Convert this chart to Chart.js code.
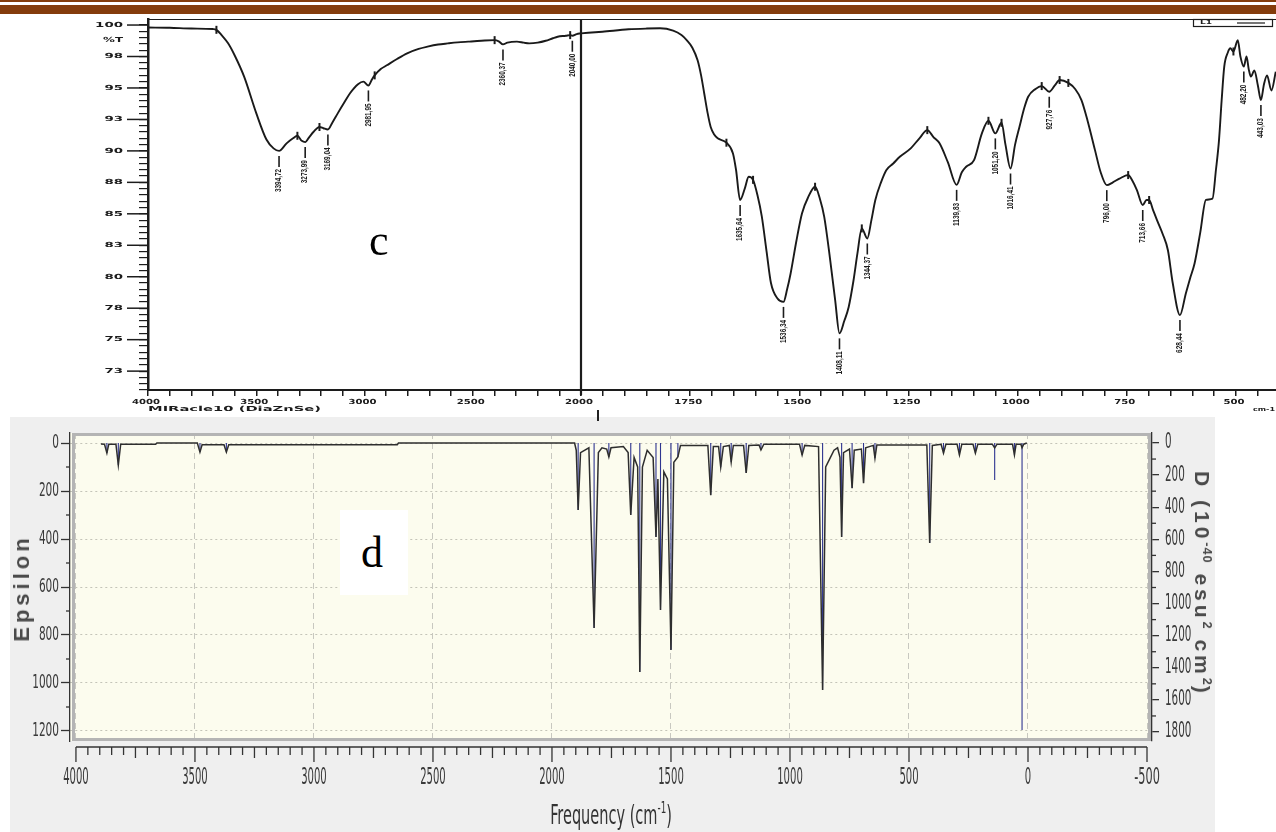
<!DOCTYPE html>
<html>
<head>
<meta charset="utf-8">
<title>Spectres IR c / d</title>
<script src="https://cdn.jsdelivr.net/npm/chart.js@4.4.1/dist/chart.umd.min.js"></script>
<style>
  html, body { margin: 0; padding: 0; background: #fff; }
  body { position: relative; width: 1276px; height: 832px; overflow: hidden; font-family: 'Liberation Sans', Arial, sans-serif; }
  .abs { position: absolute; }
  #brownThin { left: 0; top: 0; width: 1276px; height: 2px; background: #843c0c; }
  #brownThick { left: 0; top: 5px; width: 1276px; height: 9px; background: #843c0c; }
  #topBox { left: 0; top: 0; width: 1276px; height: 417px; }
  #panel { left: 10px; top: 417px; width: 1205px; height: 415px; background: #efefef; }
  #botBox { left: 0; top: 417px; width: 1276px; height: 415px; }
  #cLbl { left: 369px; top: 219px; font: 44px 'Liberation Serif', 'Times New Roman', serif; line-height: 1; color: #000; }
  #dBox { left: 340px; top: 510px; width: 68px; height: 85px; background: #fff; }
  #dLbl { left: 361px; top: 531px; font: 44px 'Liberation Serif', 'Times New Roman', serif; line-height: 1; color: #000; }
  #midTick { left: 597px; top: 410px; width: 2px; height: 11px; background: #222; }
  .rot { white-space: nowrap; line-height: 1; color: #4a4a4a; }
  #epsTitle { left: 22px; top: 588px; transform: translate(-50%, -50%) rotate(-90deg); font: bold 22px 'Liberation Sans', Arial, sans-serif; letter-spacing: 4px; }
  #dTitle { left: 1202px; top: 584px; transform: translate(-50%, -50%) rotate(90deg); font: bold 21px 'Liberation Sans', Arial, sans-serif; letter-spacing: 4px; }
  #dTitle sup { font-size: 0.6em; letter-spacing: 1px; }
  #freqTitle { left: 611px; top: 814px; transform: translate(-50%, -50%) scale(0.95, 1.6); font: 17px 'Liberation Sans Narrow', 'DejaVu Sans Condensed', 'Liberation Sans', sans-serif; color: #333; }
  #freqTitle sup { font-size: 0.6em; }
</style>
</head>
<body>
<div id="brownThin" class="abs"></div>
<div id="brownThick" class="abs"></div>
<div id="topBox" class="abs"><canvas id="topCanvas"></canvas></div>
<div id="panel" class="abs"></div>
<div id="botBox" class="abs"><canvas id="botCanvas"></canvas></div>
<div id="midTick" class="abs"></div>
<div id="cLbl" class="abs">c</div>
<div id="dBox" class="abs"></div>
<div id="dLbl" class="abs">d</div>
<div id="epsTitle" class="abs rot">Epsilon</div>
<div id="dTitle" class="abs rot">D (10<sup>-40</sup> esu<sup>2</sup> cm<sup>2</sup>)</div>
<div id="freqTitle" class="abs rot">Frequency (cm<sup>-1</sup>)</div>

<script>
// ---- spectre c : IR expérimental (%T) ----
const topLeftFreq = [4000, 3900, 3800, 3700, 3684, 3660, 3630, 3600, 3556, 3500, 3453, 3420, 3394.72, 3360, 3330, 3310, 3290, 3273.99, 3255, 3236, 3208, 3190, 3169.04, 3150, 3123, 3095, 3066, 3030, 3005, 2981.95, 2965, 2953, 2925, 2897, 2850, 2803, 2750, 2709, 2660, 2615, 2570, 2521, 2460, 2399, 2380, 2360.37, 2340, 2296, 2265, 2239, 2200, 2163, 2130, 2108, 2070, 2050, 2040, 2020, 2000];
const topLeftT = [99.8, 99.78, 99.72, 99.68, 99.62, 99.2, 98.55, 97.6, 95.9, 93.0, 90.9, 90.2, 90.0, 90.6, 91.0, 91.2, 90.8, 90.7, 91.1, 91.5, 91.9, 91.8, 91.7, 92.2, 93.0, 93.8, 94.6, 95.3, 95.5, 95.2, 95.7, 96.0, 96.5, 96.8, 97.3, 97.75, 98.1, 98.28, 98.45, 98.54, 98.62, 98.68, 98.75, 98.8, 98.7, 98.46, 98.6, 98.68, 98.6, 98.54, 98.6, 98.75, 98.95, 99.07, 99.15, 99.2, 99.15, 99.28, 99.34];

const topRightFreq = [2000, 1951, 1891, 1850, 1819, 1789, 1770, 1758, 1745, 1733, 1725, 1718, 1710, 1703, 1695, 1687, 1667, 1652, 1645, 1635.64, 1625, 1616, 1606, 1596, 1586, 1575, 1565, 1550, 1536.34, 1528, 1520, 1507, 1494, 1480, 1464, 1453, 1443, 1430, 1418, 1408.11, 1397, 1387, 1376, 1367, 1357, 1344.37, 1335, 1326, 1313, 1301, 1285, 1270, 1245, 1225, 1207, 1193, 1179, 1160, 1139.83, 1128, 1118, 1100, 1082, 1067, 1051.2, 1037, 1028, 1016.41, 1006, 996, 985, 976, 960, 945, 927.76, 915, 904, 884, 868, 854, 840, 823, 810, 796, 782, 767, 747, 737, 727, 713.66, 705, 699, 690, 681, 668, 656, 645, 628.44, 615, 605, 595, 582, 569, 554, 546, 539, 533, 527, 519, 513, 506, 496, 490, 482.2, 476, 471, 466, 458, 450, 443.03, 436, 429, 419, 409];
const topRightT = [99.34, 99.47, 99.66, 99.72, 99.74, 99.55, 99.2, 98.8, 98.2, 97.2, 96.0, 94.6, 93.0, 91.9, 91.3, 91.0, 90.65, 89.8, 88.5, 86.1, 87.0, 87.94, 87.7, 86.5, 84.8, 82.0, 79.5, 78.27, 78.0, 79.0, 80.26, 82.8, 85.03, 86.3, 87.15, 86.2, 84.76, 81.5, 78.14, 75.5, 76.5, 77.6, 79.7, 81.85, 83.84, 83.04, 84.5, 86.1, 87.5, 88.47, 89.0, 89.53, 90.2, 91.0, 91.65, 91.1, 90.6, 89.1, 87.3, 88.3, 88.74, 89.27, 91.39, 92.39, 91.39, 92.23, 90.5, 88.6, 90.5, 91.9, 93.4, 94.3, 94.9, 95.15, 94.7, 95.2, 95.63, 95.4, 94.9, 94.04, 92.4, 90.06, 88.3, 87.28, 87.5, 87.8, 88.08, 87.6, 86.88, 85.7, 86.1, 86.1, 85.3, 84.5, 83.4, 82.1, 79.5, 76.95, 78.67, 79.9, 81.05, 83.5, 86.1, 86.2, 88.5, 90.86, 94.0, 96.7, 97.8, 98.15, 97.9, 98.8, 97.5, 96.7, 97.5, 96.5, 95.9, 96.4, 95.2, 94.04, 95.3, 96.0, 94.8, 96.3];

// pics annotés
const peakFreq = [3394.72, 3273.99, 3169.04, 2981.95, 2360.37, 2040.00, 1635.64, 1536.34, 1408.11, 1344.37, 1139.83, 1051.20, 1016.41, 927.76, 796.00, 713.66, 628.44, 482.20, 443.03];
const peakT = [90.0, 90.7, 91.7, 95.2, 98.46, 99.15, 86.1, 78.0, 75.5, 83.04, 87.3, 91.39, 88.6, 94.7, 87.28, 85.7, 76.95, 96.7, 94.04];
const peakLabels = ['3394,72', '3273,99', '3169,04', '2981,95', '2360,37', '2040,00', '1635,64', '1536,34', '1408,11', '1344,37', '1139,83', '1051,20', '1016,41', '927,76', '796,00', '713,66', '628,44', '482,20', '443,03'];
// petits repères sur les épaulements
const markFreq = [3684, 3310, 3208, 2953, 2399, 2050, 1667, 1606, 1464, 1357, 1207, 1067, 1037, 945, 904, 884, 747, 699, 506];
const markT = [99.62, 91.2, 91.9, 96.0, 98.8, 99.2, 90.65, 87.7, 87.15, 83.84, 91.65, 92.39, 92.23, 95.15, 95.63, 95.4, 88.08, 86.1, 97.9];

const topYTickValues = [100, 97.5, 95, 92.5, 90, 87.5, 85, 82.5, 80, 77.5, 75, 72.5];
const topYTickLabels = ['100', '98', '95', '93', '90', '88', '85', '83', '80', '78', '75', '73'];
const topX1Labels = [4000, 3500, 3000, 2500, 2000];
const topX2Labels = [1750, 1500, 1250, 1000, 750, 500];

// ---- spectre d : calculé (Epsilon / D) ----
const curveFreq = [3895, 3880, 3870, 3862, 3832, 3822, 3812, 3665, 3660, 3490, 3479, 3470, 3378, 3368, 3358, 2650, 2645, 1905, 1898, 1890, 1880, 1845, 1823, 1805, 1790, 1770, 1761, 1752, 1700, 1680, 1669, 1655, 1640, 1631, 1620, 1600, 1575, 1563, 1555, 1544, 1530, 1515, 1500, 1488, 1471, 1460, 1345, 1333, 1322, 1300, 1291, 1280, 1255, 1247, 1238, 1195, 1184, 1173, 1130, 1122, 1110, 960, 949, 938, 880, 863, 850, 830, 815, 800, 790, 783, 775, 750, 739, 730, 700, 691, 682, 650, 643, 635, 425, 413, 402, 365, 355, 345, 298, 288, 278, 231, 221, 211, 150, 140, 130, 65, 57, 50, 30, 25, 18, 5];
const curveEps = [4, 5, 42, 5, 5, 92, 5, 5, 0, 0, 38, 7, 7, 38, 7, 7, 0, 0, 30, 279, 40, 20, 771, 40, 20, 25, 58, 20, 15, 40, 300, 60, 100, 954, 100, 30, 60, 392, 150, 696, 120, 150, 862, 80, 58, 10, 10, 217, 15, 15, 100, 15, 10, 79, 10, 10, 125, 10, 8, 29, 5, 5, 50, 10, 15, 1029, 100, 60, 30, 20, 60, 392, 40, 25, 188, 30, 25, 167, 20, 10, 63, 8, 8, 417, 10, 5, 42, 5, 5, 50, 5, 5, 42, 5, 5, 20, 5, 5, 50, 5, 5, 20, 5, 0];

const stickFreq = [3870, 3822, 3479, 3368, 1890, 1823, 1761, 1669, 1631, 1563, 1544, 1500, 1471, 1333, 1291, 1247, 1184, 1122, 949, 863, 783, 739, 691, 643, 413, 355, 288, 221, 140, 57, 25];
const stickD = [62, 137, 56, 56, 417, 1152, 87, 448, 1426, 585, 1040, 1289, 87, 324, 149, 118, 187, 44, 75, 1538, 585, 280, 249, 93, 623, 62, 75, 62, 230, 75, 1787];

const botXLabels = [4000, 3500, 3000, 2500, 2000, 1500, 1000, 500, 0, -500];
const botYLabels = [0, 200, 400, 600, 800, 1000, 1200];
const botY2Labels = [0, 200, 400, 600, 800, 1000, 1200, 1400, 1600, 1800];

// ---- utilitaires ----
function seg(ctx, xa, ya, xb, yb) {
    ctx.beginPath();
    ctx.moveTo(xa, ya);
    ctx.lineTo(xb, yb);
    ctx.stroke();
}

// texte étiré pour coller à la largeur / hauteur voulues
function drawFit(ctx, text, x, y, font, width, height, align) {
    ctx.save();
    ctx.font = font;
    const size = parseFloat(font.match(/([\d.]+)px/)[1]);
    const w = ctx.measureText(text).width || 1;
    ctx.translate(x, y);
    ctx.scale(width / w, height / (size * 0.72));
    ctx.textAlign = align;
    ctx.textBaseline = 'middle';
    ctx.fillText(text, 0, 0);
    ctx.restore();
}

function stepTicks(lo, hi, step) {
    const out = [];
    for (let v = lo; v <= hi + 1e-9; v += step) out.push({ value: v });
    return out;
}

const smallFont = 'bold 7px "DejaVu Sans", "Liberation Sans", sans-serif';
const peakFont = 'bold 8px "Liberation Sans", Arial, sans-serif';
const narrowFont = '16px "Liberation Sans Narrow", "DejaVu Sans Condensed", "Liberation Sans", sans-serif';

// ---- décor du spectre c ----
const topDecor = {
    id: 'topDecor',
    afterDraw(chart) {
        const { ctx, chartArea: a } = chart;
        const x1 = chart.scales.x1, x2 = chart.scales.x2, y = chart.scales.y;
        const ink = '#1c1c1c';
        ctx.save();
        ctx.strokeStyle = ink;
        ctx.fillStyle = ink;

        ctx.lineWidth = 1.2;
        seg(ctx, a.left, a.top + 0.5, a.right, a.top + 0.5);

        // coupure à 2000 cm-1
        const xs = x1.getPixelForValue(2000);
        ctx.lineWidth = 2.2;
        seg(ctx, xs, a.top, xs, a.bottom + 5);

        // graduations principales et valeurs %T
        ctx.lineWidth = 1.5;
        topYTickValues.forEach((v, i) => {
            const py = y.getPixelForValue(v);
            seg(ctx, a.left - 21, py, a.left, py);
            drawFit(ctx, topYTickLabels[i], a.left - 25, py, smallFont, topYTickLabels[i].length * 9.3, 5, 'right');
        });
        drawFit(ctx, '%T', a.left - 25, y.getPixelForValue(98.8), smallFont, 20, 5, 'right');

        topX1Labels.forEach(v => {
            drawFit(ctx, String(v), x1.getPixelForValue(v) - 2, a.bottom + 12, smallFont, 28, 5, 'center');
        });
        topX2Labels.forEach(v => {
            drawFit(ctx, String(v), x2.getPixelForValue(v) - 2, a.bottom + 12, smallFont, v >= 1000 ? 28 : 21, 5, 'center');
        });
        drawFit(ctx, 'MIRacle10 (DiaZnSe)', a.left, a.bottom + 19.5, smallFont, 173, 5, 'left');
        drawFit(ctx, 'cm-1', a.right - 1, a.bottom + 19.5, smallFont, 22, 4, 'right');

        // petite légende L1
        ctx.lineWidth = 1.2;
        ctx.strokeRect(1193.5, a.top + 0.5, 79, 7);
        drawFit(ctx, 'L1', 1200, a.top + 4, smallFont, 12, 4, 'left');
        seg(ctx, 1237, a.top + 4, 1265, a.top + 4);

        // repères d'épaulements
        ctx.lineWidth = 2;
        markFreq.forEach((f, i) => {
            const sx = f >= 2000 ? x1 : x2;
            const px = sx.getPixelForValue(f), py = y.getPixelForValue(markT[i]);
            seg(ctx, px, py - 4, px, py + 4);
        });

        // pics : trait + valeur verticale
        peakFreq.forEach((f, i) => {
            const sx = f >= 2000 ? x1 : x2;
            const px = sx.getPixelForValue(f), py = y.getPixelForValue(peakT[i]);
            ctx.lineWidth = 1.6;
            seg(ctx, px, py + 5, px, py + 16);
            ctx.save();
            ctx.translate(px, py + 18);
            ctx.rotate(-Math.PI / 2);
            drawFit(ctx, peakLabels[i], 0, 0, peakFont, peakLabels[i].length * 3.3, 6, 'right');
            ctx.restore();
        });
        ctx.restore();
    }
};

// ---- décor du spectre d ----
const botDecor = {
    id: 'botDecor',
    beforeDraw(chart) {
        const { ctx, chartArea: a } = chart;
        ctx.save();
        ctx.fillStyle = '#fcfcee';
        ctx.fillRect(a.left, a.top, a.right - a.left, a.bottom - a.top);
        ctx.restore();
    },
    afterDatasetsDraw(chart) {
        const { ctx, chartArea: a } = chart;
        ctx.save();
        ctx.strokeStyle = '#b4b4b4';
        ctx.lineWidth = 3;
        ctx.strokeRect(a.left + 3.5, a.top + 1.5, a.right - a.left - 6, a.bottom - a.top - 3);
        ctx.restore();
    },
    afterDraw(chart) {
        const { ctx, chartArea: a } = chart;
        const x = chart.scales.x, y = chart.scales.y, y2 = chart.scales.y2;
        ctx.save();
        ctx.strokeStyle = '#333';
        ctx.fillStyle = '#3a3a3a';
        ctx.lineWidth = 1.3;

        // rangée de graduations sous le cadre
        const rowY = a.bottom + 6;
        seg(ctx, x.getPixelForValue(4000), rowY, x.getPixelForValue(-500), rowY);
        for (let v = -500; v <= 4000; v += 50) {
            const px = x.getPixelForValue(v);
            const len = v % 500 === 0 ? 15 : (v % 250 === 0 ? 11 : 8);
            seg(ctx, px, rowY, px, rowY + len);
        }
        for (let v = 100; v < 1200; v += 200) {
            const py = y.getPixelForValue(v);
            seg(ctx, a.left - 4, py, a.left, py);
        }
        for (let v = 100; v < 1800; v += 200) {
            const py = y2.getPixelForValue(v);
            seg(ctx, a.right, py, a.right + 4, py);
        }

        botXLabels.forEach(v => {
            const t = String(v);
            drawFit(ctx, t, x.getPixelForValue(v), a.bottom + 37, narrowFont, t.length * 6.4, 17, 'center');
        });
        botYLabels.forEach(v => {
            const t = String(v);
            drawFit(ctx, t, a.left - 11, y.getPixelForValue(v), narrowFont, t.length * 6.7, 14, 'right');
        });
        botY2Labels.forEach(v => {
            const t = String(v);
            drawFit(ctx, t, a.right + 13, y2.getPixelForValue(v), narrowFont, t.length * 6.6, 15, 'left');
        });
        ctx.restore();
    }
};

// ---- graphique c ----
new Chart(document.getElementById('topCanvas'), {
    type: 'line',
    data: {
        datasets: [
            {
                data: topLeftFreq.map((f, i) => ({ x: f, y: topLeftT[i] })),
                xAxisID: 'x1', yAxisID: 'y',
                borderColor: '#1a1a1a', borderWidth: 1.9, pointRadius: 0,
                cubicInterpolationMode: 'monotone'
            },
            {
                data: topRightFreq.map((f, i) => ({ x: f, y: topRightT[i] })),
                xAxisID: 'x2', yAxisID: 'y',
                borderColor: '#1a1a1a', borderWidth: 1.9, pointRadius: 0,
                cubicInterpolationMode: 'monotone'
            }
        ]
    },
    options: {
        responsive: true,
        maintainAspectRatio: false,
        animation: false,
        layout: { padding: { top: 19, right: 0, bottom: 0, left: 0 } },
        plugins: { legend: { display: false }, tooltip: { enabled: false } },
        scales: {
            x1: {
                type: 'linear', position: 'bottom', reverse: true, min: 2000, max: 4000,
                stack: 'ir', stackWeight: 433, offset: false,
                afterBuildTicks: s => { s.ticks = stepTicks(2000, 4000, 100); },
                afterFit: s => { s.height = 27; },
                ticks: { display: false },
                grid: { drawOnChartArea: false, drawTicks: true, tickLength: 6, color: '#1c1c1c', lineWidth: 1.5 },
                border: { display: true, color: '#1c1c1c', width: 2 }
            },
            x2: {
                type: 'linear', position: 'bottom', reverse: true, min: 408.5, max: 2000,
                stack: 'ir', stackWeight: 695, offset: false,
                afterBuildTicks: s => { s.ticks = stepTicks(450, 2000, 50); },
                afterFit: s => { s.height = 27; },
                ticks: { display: false },
                grid: { drawOnChartArea: false, drawTicks: true, tickLength: 6, color: '#1c1c1c', lineWidth: 1.5 },
                border: { display: true, color: '#1c1c1c', width: 2 }
            },
            y: {
                type: 'linear', position: 'left', min: 71, max: 100.48,
                afterBuildTicks: s => { s.ticks = stepTicks(71, 100, 0.5); },
                afterFit: s => { s.width = 148; },
                ticks: { display: false },
                grid: { drawOnChartArea: false, drawTicks: true, tickLength: 9, color: '#1c1c1c', lineWidth: 1.2 },
                border: { display: true, color: '#1c1c1c', width: 2.5 }
            }
        }
    },
    plugins: [topDecor]
});

// ---- graphique d ----
const stickPoints = [];
stickFreq.forEach((f, i) => {
    stickPoints.push({ x: f, y: 0 }, { x: f, y: stickD[i] }, { x: f, y: null });
});

new Chart(document.getElementById('botCanvas'), {
    type: 'line',
    data: {
        datasets: [
            {
                data: curveFreq.map((f, i) => ({ x: f, y: curveEps[i] })),
                yAxisID: 'y',
                borderColor: '#2e2e2e', borderWidth: 1.5, pointRadius: 0, tension: 0
            },
            {
                data: stickPoints,
                yAxisID: 'y2',
                borderColor: '#2f3590', borderWidth: 1.1, pointRadius: 0, tension: 0, spanGaps: false
            }
        ]
    },
    options: {
        responsive: true,
        maintainAspectRatio: false,
        animation: false,
        layout: { padding: { top: 16, right: 0, bottom: 0, left: 0 } },
        plugins: { legend: { display: false }, tooltip: { enabled: false } },
        scales: {
            x: {
                type: 'linear', position: 'bottom', reverse: true, min: -521, max: 4025,
                afterBuildTicks: s => { s.ticks = botXLabels.map(v => ({ value: v })); },
                afterFit: s => { s.height = 91; },
                ticks: { display: false },
                grid: { drawTicks: false, color: '#c8c8c0', lineWidth: 1 },
                border: { display: false, dash: [6, 4] }
            },
            y: {
                type: 'linear', position: 'left', reverse: true, min: -41.7, max: 1241.7,
                afterBuildTicks: s => { s.ticks = botYLabels.map(v => ({ value: v })); },
                afterFit: s => { s.width = 70; },
                ticks: { display: false },
                grid: { color: '#c4c4b8', lineWidth: 1, drawTicks: true, tickLength: 9, tickColor: '#333', tickWidth: 1.3 },
                border: { display: true, color: '#333', width: 1.3, dash: [2, 3] }
            },
            y2: {
                type: 'linear', position: 'right', reverse: true, min: -62.3, max: 1856,
                afterBuildTicks: s => { s.ticks = botY2Labels.map(v => ({ value: v })); },
                afterFit: s => { s.width = 124; },
                ticks: { display: false },
                grid: { drawOnChartArea: false, drawTicks: true, tickLength: 7, color: '#333', lineWidth: 1.3 },
                border: { display: true, color: '#333', width: 1.3 }
            }
        }
    },
    plugins: [botDecor]
});
</script>
</body>
</html>
